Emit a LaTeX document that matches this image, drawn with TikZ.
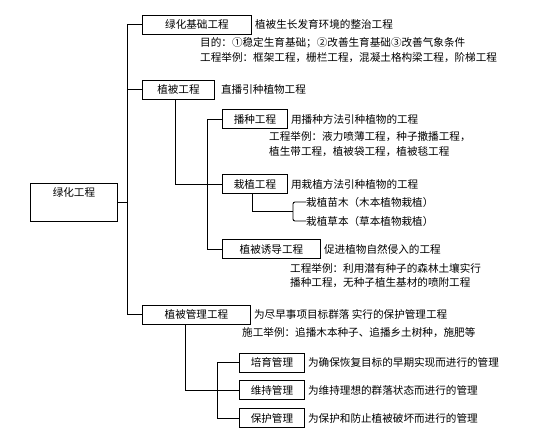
\documentclass[tikz,border=0pt]{standalone}
\usepackage{fontspec}
\newfontfamily\cjk{Noto Sans CJK SC}
\usetikzlibrary{positioning}

\begin{document}
\begin{tikzpicture}[x=1pt, y=-1pt,
  every node/.style={font=\cjk\fontsize{10.6}{12}\selectfont},
  box/.style={draw, line width=0.9pt, inner sep=0pt, minimum height=19pt, anchor=west},
  rootbox/.style={draw, line width=0.9pt, inner xsep=0pt, inner ysep=1.5pt, text width=87pt, align=center, text height=11.5pt, text depth=23.5pt, anchor=north west},
  note/.style={inner sep=0pt, anchor=west},
  wire/.style={line width=0.9pt}]
  \useasboundingbox (0,0) rectangle (554,440);

  \node[rootbox] (root) at (30,183) {绿化工程};

  \node[box, minimum width=109pt] (jc) at (142,24.5) {绿化基础工程};
  \node[box, minimum width=72pt] (zb) at (142,89.5) {植被工程};
  \node[box, minimum width=108pt] (gl) at (142,314.5) {植被管理工程};

  \node[note, right=3pt of jc] (jct) {植被生长发育环境的整治工程};
  \node[note] (jca) at (200,43) {目的：①稳定生育基础；②改善生育基础③改善气象条件};
  \node[note] (jcb) at (200,58) {工程举例：框架工程，栅栏工程，混凝土格构梁工程，阶梯工程};
  \node[note, right=6pt of zb] (zbt) {直播引种植物工程};

  \node[box, minimum width=65pt] (bz) at (222,119) {播种工程};
  \node[box, minimum width=65pt] (zz) at (222,184) {栽植工程};
  \node[box, minimum width=98pt] (yd) at (222,249) {植被诱导工程};

  \node[note, right=3pt of bz] (bzt) {用播种方法引种植物的工程};
  \node[note] (bza) at (269,137) {工程举例：液力喷薄工程，种子撒播工程，};
  \node[note] (bzb) at (269,152) {植生带工程，植被袋工程，植被毯工程};
  \node[note, right=3pt of zz] (zzt) {用栽植方法引种植物的工程};
  \node[note] (mm) at (306,202) {栽植苗木（木本植物栽植）};
  \node[note] (cb) at (306,221) {栽植草本（草本植物栽植）};
  \node[note, right=3pt of yd] (ydt) {促进植物自然侵入的工程};
  \node[note] (yda) at (290,268) {工程举例：利用潜有种子的森林土壤实行};
  \node[note] (ydb) at (290,283) {播种工程，无种子植生基材的喷附工程};

  \node[note, right=3pt of gl] (glt) {为尽早事项目标群落\ 实行的保护管理工程};
  \node[note] (gla) at (242,333) {施工举例：追播木本种子、追播乡土树种，施肥等};

  \node[box, minimum width=65pt] (py) at (239,362.5) {培育管理};
  \node[box, minimum width=65pt] (wc) at (239,390) {维持管理};
  \node[box, minimum width=65pt] (bh) at (239,418) {保护管理};
  \node[note, right=3pt of py] (pyt) {为确保恢复目标的早期实现而进行的管理};
  \node[note, right=3pt of wc] (wct) {为维持理想的群落状态而进行的管理};
  \node[note, right=3pt of bh] (bht) {为保护和防止植被破坏而进行的管理};

  \coordinate (tk) at (127,0);
  \coordinate (vs) at (207,0);
  \coordinate (br) at (293,211.5);
  \coordinate (vm) at (217,0);

  \draw[wire] (root.east) -- (root.east -| tk);
  \draw[wire] (jc.west) -| (tk |- gl.west) -- (gl.west);
  \draw[wire] (zb.west) -- (zb.west -| tk);

  \draw[wire] ([xshift=-3pt]zb.south) |- (zz.west);
  \draw[wire] (bz.west) -| (vs |- yd.west) -- (yd.west);
  \draw[wire] ([xshift=-3pt]zz.south) |- (br);
  \draw[wire, rounded corners=2pt] (mm.west) -| (br |- cb.west) -- (cb.west);

  \draw[wire] ([xshift=-11pt]gl.south) |- (wc.west);
  \draw[wire] (py.west) -| (vm |- bh.west) -- (bh.west);
\end{tikzpicture}
\end{document}
